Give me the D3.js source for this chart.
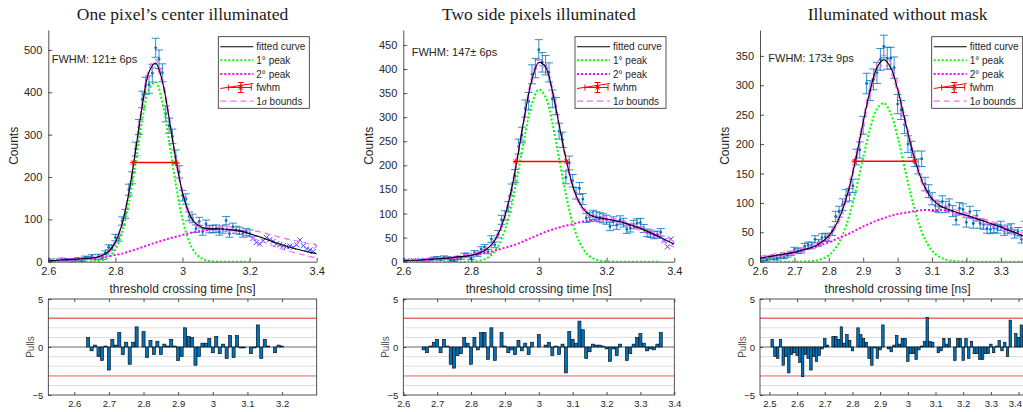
<!DOCTYPE html>
<html><head><meta charset="utf-8">
<script src="https://cdn.jsdelivr.net/npm/d3@7/dist/d3.min.js"></script>
<style>
html,body{margin:0;padding:0;background:#fff;}
svg{display:block;}
</style></head><body>
<svg id="chart" width="1023" height="412"></svg>
<script>
// ================= DATA =================
const titles = ["One pixel\u2019s center illuminated", "Two side pixels illuminated", "Illuminated without mask"];
const fwhmLabels = ["FWHM: 121\u00b1 6ps", "FWHM: 147\u00b1 6ps", "FWHM: 173\u00b1 9ps"];
const legendLabels = ["fitted curve", "1\u00b0 peak", "2\u00b0 peak", "fwhm", "1\u03c3 bounds"];
const yMax = [547, 481, 394];
const yTicksA = [0,100,200,300,400,500];
const yTicksB = [0,50,100,150,200,250,300,350,400,450];
const yTicksC = [0,50,100,150,200,250,300,350];
const xTicksMainA = [2.6,2.8,3,3.2,3.4];
const xTicksMainB = [2.6,2.8,3,3.2,3.4];
const xTicksMainC = [2.6,2.7,2.8,2.9,3,3.1,3.2,3.3];
const xTicksPullA = [2.6,2.7,2.8,2.9,3,3.1,3.2];
const xTicksPullB = [2.6,2.7,2.8,2.9,3,3.1,3.2,3.3,3.4];
const xTicksPullC = [2.5,2.6,2.7,2.8,2.9,3,3.1,3.2,3.3,3.4];
const pullTicks = [-5,0,5];
const pullGrid = [-4,-3,-2,-1,1,2,3,4];
const pullLimits = [3,-3];
const mainDomain = [2.6, 3.4];
const pullDomainA = [2.525, 3.3], pullDomainB = [2.6, 3.4], pullDomainC = [2.466, 3.46];
const fitRangeA = [2.64, 3.2], fitRangeB = [2.66, 3.36], fitRangeC = [2.51, 3.46];
const fwhmLeft = [2.853, 2.932, 2.875], fwhmRight = [2.980, 3.082, 3.050], fwhmHeight = [234, 208, 171];

// model curves sampled on a common grid (ns)
const curveX = [2.60,2.62,2.64,2.66,2.68,2.70,2.72,2.74,2.76,2.78,2.80,2.82,2.84,2.86,2.88,2.90,2.92,2.94,2.96,2.98,3.00,3.02,3.04,3.06,3.08,3.10,3.12,3.14,3.16,3.18,3.20,3.22,3.24,3.26,3.28,3.30,3.32,3.34,3.36,3.38,3.40];
const peak1A = [0,0,0,0,0,0,0.2,0.9,3.5,11.1,30.2,70.1,138.3,232.6,333.4,407.3,423.9,375.9,284.2,183.0,100.4,47.0,18.7,6.4,1.8,0.5,0.1,0,0,0,0,0,0,0,0,0,0,0,0,0,0];
const peak2A = [2,3,4,5,6,7,8,9,11,13,16,19,24,29,34,40,45,50,55,59,63,67,71,74,76,77,77,76,74,71,66,61,56,50,44,39,34,30,26,22,19];
const bandUpA = [2,2,2,2,2,2,2,2,3,3,4,5,6,7,8,8,8,8,7,7,6,5,5,4,4,5,5,6,7,8,9,11,13,14,16,17,18,19,20,20,21];
const bandDnA = [2,2,2,2,2,2,2,2,3,3,4,5,6,7,8,8,8,8,7,7,6,5,5,4,4,5,5,6,7,8,8,9,9,10,10,10,10,10,10,10,10];
const peak1B = [0,0,0,0,0,0,0,0,0,0.1,0.5,1.7,5.2,13.7,32.1,66.0,119.4,190.1,266.6,329.1,357.5,341.9,287.8,213.3,139.2,79.9,40.4,18.0,7.0,2.4,0.7,0.2,0,0,0,0,0,0,0,0,0];
const peak2B = [2,3,3,4,5,6,7,8,10,11,13,15,18,21,25,29,33,38,44,50,56,62,67,71,75,78,82,85,87,88,88,86,83,79,74,69,63,57,50,43,36];
const bandB = [2,2,2,2,2,2,2,2,2,3,3,3,4,4,5,5,6,6,6,6,6,6,6,5,5,4,4,4,4,4,4,4,4,4,4,4,5,5,5,6,6];
const peak1C = [0,0,0,0,0,0.1,0.2,0.6,1.7,4.6,10.9,23.5,45.5,79.4,124.9,177.0,225.9,260.0,269.7,252.0,212.3,161.1,110.2,67.9,37.7,18.9,8.5,3.5,1.3,0.4,0.1,0,0,0,0,0,0,0,0,0,0];
const peak2C = [6,8,10,12,14,16,19,22,25,29,33,38,43,48,54,60,65,70,74,78,81,83,85,87,88,88,88,87,85,82,79,75,71,67,63,59,54,50,45,40,36];
const bandC = [3,3,3,3,3,3,3,3,3,3,4,4,5,5,6,7,7,8,8,8,7,6,5,5,4,4,4,4,4,4,4,4,4,4,4,4,5,5,5,6,6];

// histogram counts, 0.01 ns bins, first bin centre given by countStart
const binStep = 0.01;
const countStart = [2.60, 2.60, 2.60];
const countsA = [2,3,1,2,6,4,5,3,3,7,2,10,9,13,7,14,8,21,34,33,57,56,96,113,170,198,266,318,383,415,418,445,505,478,446,349,321,296,248,212,156,148,107,102,78,95,71,89,77,77,78,71,76,97,66,82,75,73,66,70,67,55,45,42,50,57,52,48,42,40,38,36,37,34,40,51,38,30,28,24,37];
const countsB = [1,2,0,2,1,3,3,3,5,7,8,5,9,8,3,2,7,8,14,14,7,19,15,26,30,21,47,35,57,87,96,114,149,178,239,263,318,333,389,402,440,414,408,393,338,323,271,253,175,205,168,142,152,130,91,93,97,94,92,90,87,73,84,76,86,81,67,70,77,80,81,69,60,58,55,56,61,44,31,47,40];
const countsC = [4,3,3,7,6,5,9,8,11,14,20,18,19,26,28,28,38,32,41,42,41,52,77,85,97,112,114,129,178,190,232,303,291,310,321,344,366,346,346,330,268,258,233,200,191,175,162,175,132,120,107,95,93,102,93,97,86,71,91,89,67,85,65,78,65,63,56,55,57,56,61,52,55,57,47,51,38,61,40,47,42,47];

// pulls, first bin centre given by pullStart
const pullStart = [2.64, 2.66, 2.51];
const pullsA = [1.0,-0.4,0.2,-1.0,-1.4,0.1,-2.4,0.8,0.2,1.5,-0.8,0.5,-1.8,0.5,2.1,0.0,1.6,-1.1,0.7,-0.8,0.6,-0.8,0.3,0.1,0.8,0.1,-1.4,-1.0,2.0,1.1,1.0,-1.9,-1.0,0.4,0.4,0.9,-0.6,1.1,-0.7,0.3,-1.2,1.2,-1.1,1.2,-0.1,-0.1,0.0,-0.7,-0.1,2.3,-1.2,0.8,0.1,0.0,-0.6,0.2,0.1];
const pullsB = [-0.3,-0.6,0.1,0.5,0.8,-0.6,0.8,0.1,-1.8,-2.2,-0.9,-0.7,1.0,0.4,-1.8,1.0,-0.3,1.5,1.5,-1.3,2.0,-1.4,0.0,1.5,0.1,-0.6,-0.3,-0.8,0.7,-0.4,0.4,-0.8,0.5,0.0,1.3,0.0,0.2,0.5,-0.9,0.1,-0.8,0.3,-2.7,1.6,0.8,0.4,2.7,1.8,-1.2,-0.5,0.3,0.2,0.2,0.1,-0.2,-1.5,-0.2,-0.9,0.3,0.0,-1.4,-0.7,0.3,1.0,1.4,0.4,-0.4,-0.2,-0.3,0.3,1.5];
const pullsC = [0.8,-1.0,-1.2,0.8,-1.9,-1.0,-2.7,-0.8,-0.6,-0.9,-1.6,-3.1,-0.8,-1.2,-2.4,-1.0,-1.5,-0.9,-0.2,0.9,0.2,0.0,1.1,1.1,0.8,2.1,0.4,1.3,0.7,-0.4,0.0,2.0,1.3,0.9,0.5,-1.2,-1.9,-0.1,-1.2,-0.3,2.3,0.0,-0.2,-0.5,0.2,1.2,0.3,0.9,0.9,-1.5,-0.7,-0.7,-1.3,-0.3,0.1,0.6,3.1,0.6,0.5,0.0,-0.6,-0.4,0.9,0.3,0.9,0.0,-1.4,0.9,0.9,-1.4,0.9,-1.2,0.6,-0.7,-0.7,-1.3,-1.3,-0.7,-0.7,0.3,-0.6,0.1,0.7,-0.4,0.5,-1.0,2.8,0.0,1.4,1.0,2.3];

// ================= LAYOUT / STYLE =================
const mainL = [48.3, 403.3, 760], mainR = [316.7, 674.3, 1035.2];
const mainTop = 30, mainBot = 261.7, pullTop = 299, pullBot = 395;
const legendL = [218.3, 575, 931.7], legendW = 91, legendTop = 36.7, legendBot = 108.3;
const fwhmTextPos = [[51.7, 62.5], [411.7, 56], [768.3, 61.5]];
const AX = "#262626", BLUE = "#0072BD", XBLUE = "#4646ff", GREEN = "#00ff00", MAG = "#ff00ff", BND = "#ff66ff", RED = "#ff0000";
const SANS = "'Liberation Sans', Arial, Helvetica, sans-serif";
const SERIF = "'Liberation Serif', 'Times New Roman', serif";

const panels = [
  {id:0, yTicks:yTicksA, xTicks:xTicksMainA, xpTicks:xTicksPullA, pDom:pullDomainA, fit:fitRangeA, p1:peak1A, p2:peak2A, up:bandUpA, dn:bandDnA, counts:countsA, pulls:pullsA},
  {id:1, yTicks:yTicksB, xTicks:xTicksMainB, xpTicks:xTicksPullB, pDom:pullDomainB, fit:fitRangeB, p1:peak1B, p2:peak2B, up:bandB, dn:bandB, counts:countsB, pulls:pullsB},
  {id:2, yTicks:yTicksC, xTicks:xTicksMainC, xpTicks:xTicksPullC, pDom:pullDomainC, fit:fitRangeC, p1:peak1C, p2:peak2C, up:bandC, dn:bandC, counts:countsC, pulls:pullsC}
];

const svg = d3.select("#chart");
const fmt = d3.format("~g");

function styleAxis(sel, fs) {
  sel.attr("font-size", null).attr("font-family", null);
  sel.select(".domain").attr("stroke", AX).attr("stroke-width", 0.8);
  sel.selectAll(".tick line").attr("stroke", AX).attr("stroke-width", 0.8);
  sel.selectAll(".tick text").attr("fill", AX).style("font-size", fs + "px").style("font-family", SANS);
}

function star(g, cx, cy, r, color) {
  const s = g.append("g").attr("stroke", color).attr("stroke-width", 1);
  [[r,0],[0,r],[r*0.7,r*0.7],[r*0.7,-r*0.7]].forEach(([dx,dy]) => {
    s.append("line").attr("x1", cx-dx).attr("y1", cy-dy).attr("x2", cx+dx).attr("y2", cy+dy);
  });
}

panels.forEach((P, p) => {
  const L = mainL[p], R = mainR[p];
  const x = d3.scaleLinear().domain(mainDomain).range([L, R]);
  const y = d3.scaleLinear().domain([0, yMax[p]]).range([mainBot, mainTop]);

  svg.append("clipPath").attr("id", "cm" + p).append("rect")
    .attr("x", L).attr("y", mainTop).attr("width", R - L).attr("height", mainBot - mainTop);
  const plot = svg.append("g").attr("clip-path", `url(#cm${p})`);

  const fitted = P.p1.map((v, i) => v + P.p2[i]);
  const inRange = (v, r) => v >= r[0] - 1e-6 && v <= r[1] + 1e-6;
  const line = d3.line().x(d => x(d[0])).y(d => y(d[1])).curve(d3.curveCatmullRom.alpha(0.5));

  // data points
  const bins = P.counts.map((c, i) => ({x: +(countStart[p] + i * binStep).toFixed(2), c}));
  const eb = plot.append("g").attr("stroke", BLUE).attr("stroke-width", 1).attr("stroke-opacity", 0.8);
  bins.filter(d => inRange(d.x, P.fit)).forEach(d => {
    const e = Math.sqrt(d.c), px = x(d.x), yt = y(d.c + e), yb = y(d.c - e);
    eb.append("line").attr("x1", px).attr("x2", px).attr("y1", yt).attr("y2", yb);
    eb.append("line").attr("x1", px - 4).attr("x2", px + 4).attr("y1", yt).attr("y2", yt);
    eb.append("line").attr("x1", px - 4).attr("x2", px + 4).attr("y1", yb).attr("y2", yb);
    plot.append("circle").attr("cx", px).attr("cy", y(d.c)).attr("r", 1.4).attr("fill", BLUE);
  });
  const xm = plot.append("g").attr("stroke", XBLUE).attr("stroke-width", 1);
  bins.filter(d => !inRange(d.x, P.fit)).forEach(d => {
    const px = x(d.x), py = y(d.c), r = 2.6;
    xm.append("line").attr("x1", px - r).attr("y1", py - r).attr("x2", px + r).attr("y2", py + r);
    xm.append("line").attr("x1", px - r).attr("y1", py + r).attr("x2", px + r).attr("y2", py - r);
  });

  // 1 sigma bounds
  const upper = curveX.map((v, i) => [v, fitted[i] + P.up[i]]);
  const lower = curveX.map((v, i) => [v, fitted[i] - P.dn[i]]);
  [upper, lower].forEach(b => plot.append("path").attr("d", line(b)).attr("fill", "none")
    .attr("stroke", BND).attr("stroke-width", 1.2).attr("stroke-dasharray", "6,4"));

  // components
  const comp = arr => curveX.map((v, i) => [v, arr[i]]).filter(d => inRange(d[0], P.fit));
  plot.append("path").attr("d", line(comp(P.p1))).attr("fill", "none").attr("stroke", GREEN)
    .attr("stroke-width", 2).attr("stroke-dasharray", "2,2");
  plot.append("path").attr("d", line(comp(P.p2))).attr("fill", "none").attr("stroke", MAG)
    .attr("stroke-width", 2).attr("stroke-dasharray", "2,2");
  // fitted curve
  plot.append("path").attr("d", line(curveX.map((v, i) => [v, fitted[i]]))).attr("fill", "none")
    .attr("stroke", "#000").attr("stroke-width", 1.1);

  // fwhm
  const fy = y(fwhmHeight[p]);
  plot.append("line").attr("x1", x(fwhmLeft[p])).attr("x2", x(fwhmRight[p])).attr("y1", fy).attr("y2", fy)
    .attr("stroke", RED).attr("stroke-width", 1.5);
  star(plot, x(fwhmLeft[p]), fy, 3, RED);
  star(plot, x(fwhmRight[p]), fy, 3, RED);

  // axes
  const gy = svg.append("g").attr("transform", `translate(${L},0)`)
    .call(d3.axisLeft(y).tickValues(P.yTicks).tickSizeInner(-4).tickSizeOuter(0).tickPadding(6).tickFormat(fmt));
  styleAxis(gy, 11);
  const gx = svg.append("g").attr("transform", `translate(0,${mainBot})`)
    .call(d3.axisBottom(x).tickValues(P.xTicks).tickSizeInner(-4).tickSizeOuter(0).tickPadding(6).tickFormat(fmt));
  styleAxis(gx, 11);

  // texts
  svg.append("text").attr("x", (L + R) / 2).attr("y", 20).attr("text-anchor", "middle")
    .style("font-family", SERIF).style("font-size", "17.5px")
    .attr("fill", "#1a1a1a").text(titles[p]);
  svg.append("text").attr("x", fwhmTextPos[p][0]).attr("y", fwhmTextPos[p][1])
    .style("font-family", SANS).style("font-size", "11px").attr("fill", AX).text(fwhmLabels[p]);
  svg.append("text").attr("transform", `translate(${L - 35},${(mainTop + mainBot) / 2}) rotate(-90)`)
    .attr("text-anchor", "middle").attr("dy", "0.35em")
    .style("font-family", SANS).style("font-size", "12px").attr("fill", AX).text("Counts");
  svg.append("text").attr("x", (L + R) / 2).attr("y", 293).attr("text-anchor", "middle")
    .style("font-family", SANS).style("font-size", "12px").attr("fill", AX).text("threshold crossing time [ns]");

  // legend
  const lg = svg.append("g");
  const lx = legendL[p];
  lg.append("rect").attr("x", lx).attr("y", legendTop).attr("width", legendW).attr("height", legendBot - legendTop)
    .attr("fill", "#fff").attr("stroke", AX).attr("stroke-width", 0.8);
  legendLabels.forEach((lab, i) => {
    const ry = legendTop + 10 + i * 13.6;
    const x0 = lx + 2, x1 = lx + 35;
    if (i === 0) lg.append("line").attr("x1", x0).attr("x2", x1).attr("y1", ry).attr("y2", ry).attr("stroke", "#000").attr("stroke-width", 1.1);
    if (i === 1) lg.append("line").attr("x1", x0).attr("x2", x1).attr("y1", ry).attr("y2", ry).attr("stroke", GREEN).attr("stroke-width", 2).attr("stroke-dasharray", "2,2");
    if (i === 2) lg.append("line").attr("x1", x0).attr("x2", x1).attr("y1", ry).attr("y2", ry).attr("stroke", MAG).attr("stroke-width", 2).attr("stroke-dasharray", "2,2");
    if (i === 3) {
      const c = (x0 + x1) / 2 + 4;
      lg.append("line").attr("x1", x0).attr("x2", x1).attr("y1", ry + 1).attr("y2", ry - 4).attr("stroke", RED).attr("stroke-width", 1);
      lg.append("line").attr("x1", x0 + 8).attr("x2", x1 - 2).attr("y1", ry).attr("y2", ry).attr("stroke", RED).attr("stroke-width", 1);
      lg.append("line").attr("x1", x0 + 8).attr("x2", x0 + 8).attr("y1", ry - 3).attr("y2", ry + 3).attr("stroke", RED);
      lg.append("line").attr("x1", x1 - 2).attr("x2", x1 - 2).attr("y1", ry - 3).attr("y2", ry + 3).attr("stroke", RED);
      lg.append("line").attr("x1", c).attr("x2", c).attr("y1", ry - 5).attr("y2", ry + 5).attr("stroke", RED);
      lg.append("line").attr("x1", c - 3).attr("x2", c + 3).attr("y1", ry - 5).attr("y2", ry - 5).attr("stroke", RED);
      lg.append("line").attr("x1", c - 3).attr("x2", c + 3).attr("y1", ry + 5).attr("y2", ry + 5).attr("stroke", RED);
      star(lg, c, ry, 3, RED);
    }
    if (i === 4) lg.append("line").attr("x1", x0).attr("x2", x1).attr("y1", ry).attr("y2", ry).attr("stroke", BND).attr("stroke-width", 1.2).attr("stroke-dasharray", "6,4");
    const t = lg.append("text").attr("x", lx + 38).attr("y", ry + 3.6)
      .style("font-family", SANS).style("font-size", "10px").attr("fill", AX);
    if (i === 4) {
      t.append("tspan").text("1");
      t.append("tspan").style("font-style", "italic").style("font-family", SERIF).text("\u03c3");
      t.append("tspan").text(" bounds");
    } else t.text(lab);
  });

  // ---------- pull plot ----------
  const xp = d3.scaleLinear().domain(P.pDom).range([L, R]);
  const yp = d3.scaleLinear().domain([-5, 5]).range([pullBot, pullTop]);
  svg.append("clipPath").attr("id", "cp" + p).append("rect")
    .attr("x", L).attr("y", pullTop).attr("width", R - L).attr("height", pullBot - pullTop);
  const pg = svg.append("g").attr("clip-path", `url(#cp${p})`);
  pg.selectAll(".grid").data(pullGrid).join("line")
    .attr("x1", L).attr("x2", R).attr("y1", d => yp(d)).attr("y2", d => yp(d))
    .attr("stroke", "#dedede").attr("stroke-width", 1);
  pg.append("line").attr("x1", L).attr("x2", R).attr("y1", yp(pullLimits[0])).attr("y2", yp(pullLimits[0]))
    .attr("stroke", "#ee3030").attr("stroke-width", 1);
  pg.append("line").attr("x1", L).attr("x2", R).attr("y1", yp(pullLimits[1])).attr("y2", yp(pullLimits[1]))
    .attr("stroke", "#f5a3a3").attr("stroke-width", 1.8);
  pg.append("line").attr("x1", L).attr("x2", R).attr("y1", yp(0)).attr("y2", yp(0))
    .attr("stroke", "#6a6a6a").attr("stroke-width", 1);
  const pb = P.pulls.map((v, i) => ({x: +(pullStart[p] + i * binStep).toFixed(2), v}));
  pg.selectAll(".bar").data(pb).join("rect")
    .attr("x", d => xp(d.x - binStep * 0.45))
    .attr("width", d => xp(d.x + binStep * 0.45) - xp(d.x - binStep * 0.45))
    .attr("y", d => Math.min(yp(d.v), yp(0)))
    .attr("height", d => Math.abs(yp(d.v) - yp(0)))
    .attr("fill", BLUE).attr("stroke", "#000").attr("stroke-width", 0.6);

  svg.append("rect").attr("x", L).attr("y", pullTop).attr("width", R - L).attr("height", pullBot - pullTop)
    .attr("fill", "none").attr("stroke", AX).attr("stroke-width", 0.8);
  const gpy = svg.append("g").attr("transform", `translate(${L},0)`)
    .call(d3.axisLeft(yp).tickValues(pullTicks).tickSizeInner(-3).tickSizeOuter(0).tickPadding(5).tickFormat(fmt));
  styleAxis(gpy, 9.5);
  gpy.select(".domain").remove();
  const gpx = svg.append("g").attr("transform", `translate(0,${pullBot})`)
    .call(d3.axisBottom(xp).tickValues(P.xpTicks).tickSizeInner(-3).tickSizeOuter(0).tickPadding(5).tickFormat(fmt));
  styleAxis(gpx, 9.5);
  gpx.select(".domain").remove();
  // keep the right-most label inside the window
  gpx.selectAll(".tick text").each(function(d) {
    const px = xp(d);
    if (px > 1010) d3.select(this).attr("text-anchor", "end").attr("dx", Math.min(6.5, 1021.5 - px));
  });
  const gpt = svg.append("g").attr("transform", `translate(0,${pullTop})`)
    .call(d3.axisTop(xp).tickValues(P.xpTicks).tickSizeInner(-3).tickSizeOuter(0).tickFormat(""));
  styleAxis(gpt, 9.5);
  gpt.select(".domain").remove();
  svg.append("text").attr("transform", `translate(${L - 18},${(pullTop + pullBot) / 2}) rotate(-90)`)
    .attr("text-anchor", "middle").attr("dy", "0.35em")
    .style("font-family", SANS).style("font-size", "10px").attr("fill", "#505050").text("Pulls");
});
</script>
</body></html>
